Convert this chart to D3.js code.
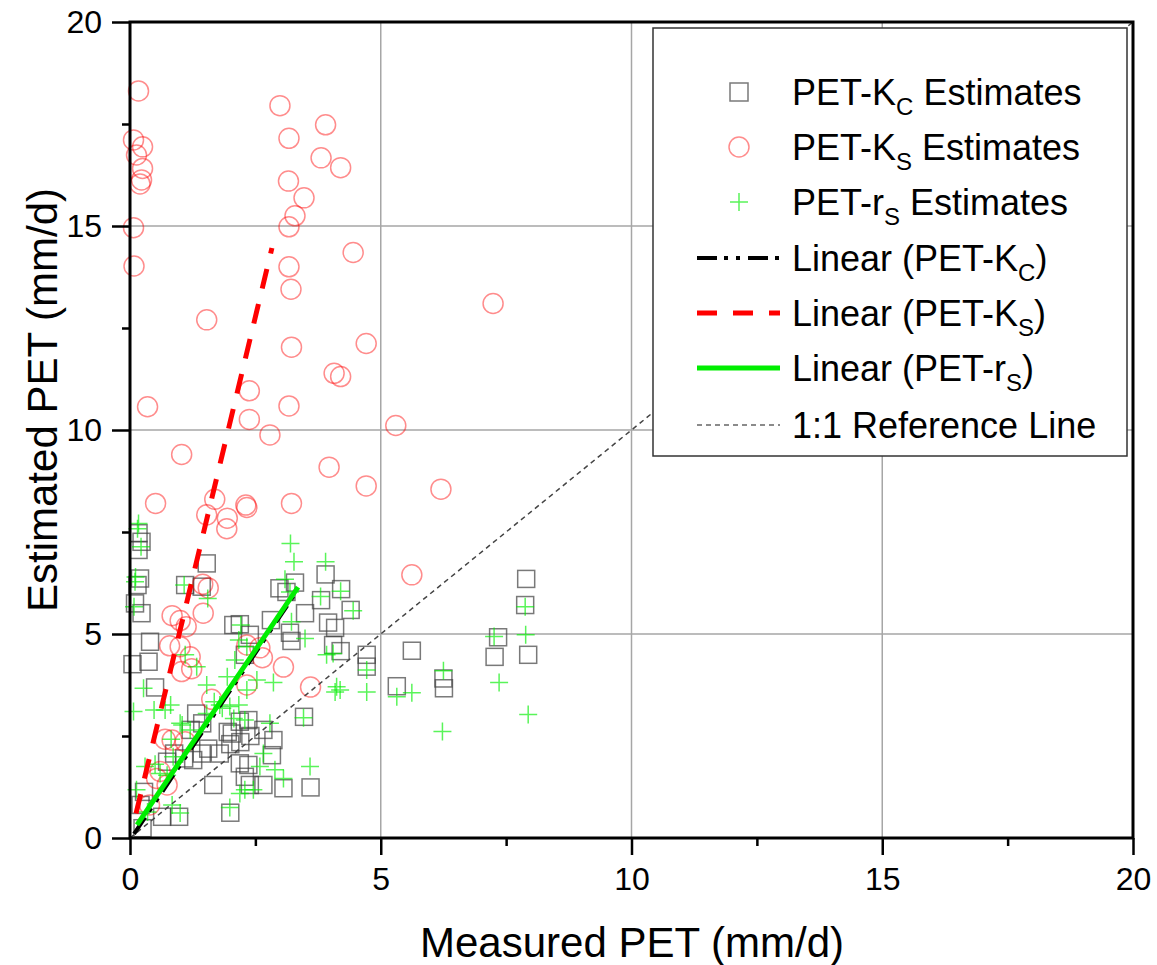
<!DOCTYPE html>
<html>
<head>
<meta charset="utf-8">
<script src="https://cdn.jsdelivr.net/npm/d3@7"></script>
<style>
body { margin: 0; background: #fff; }
text { font-family: "Liberation Sans", Arial, sans-serif; }
</style>
</head>
<body>
<div id="chart"></div>
<script>
// measured vs estimated PET
var kcPoints = [
  [0.17,7.47],[0.23,7.26],[0.17,7.06],[1.53,6.73],[1.10,6.20],[1.43,6.16],[0.20,6.36],[0.15,6.20],
  [0.10,5.75],[0.23,5.51],[0.40,4.81],[0.37,4.32],[0.05,4.26],[0.50,3.69],[2.06,5.22],[2.19,5.24],
  [2.39,4.98],[2.81,5.34],[2.98,6.12],[3.12,6.03],[3.29,6.26],[3.90,6.46],[3.81,5.83],[4.21,6.10],
  [3.49,5.51],[3.19,5.03],[3.22,4.83],[3.95,5.28],[4.09,5.15],[4.40,5.59],[4.05,4.73],[4.20,4.58],
  [4.72,4.49],[4.72,4.20],[7.90,6.35],[7.88,5.71],[7.34,4.92],[7.27,4.44],[7.94,4.49],[5.62,4.59],
  [5.32,3.72],[6.25,3.91],[6.26,3.67],[3.47,2.97],[1.32,3.05],[1.44,2.81],[1.21,2.65],[2.19,2.85],
  [2.36,2.89],[2.03,2.56],[2.66,2.65],[2.86,2.40],[2.83,2.03],[1.56,2.19],[1.79,2.07],[1.43,2.07],
  [1.26,1.91],[0.88,2.07],[1.08,1.95],[0.74,1.87],[2.19,1.83],[2.36,1.79],[2.29,1.50],[2.39,1.30],
  [2.66,1.30],[3.06,1.22],[3.60,1.24],[1.66,1.30],[2.00,0.62],[0.98,0.52],[0.64,0.52],[0.28,1.13],
  [0.21,0.81],[0.25,0.24],[2.20,2.35],[2.00,2.30],[2.40,2.50],[1.95,2.60],[2.29,4.49]
];
var ksPoints = [
  [0.17,18.31],[2.99,17.95],[3.90,17.48],[0.07,17.11],[0.25,16.94],[3.17,17.15],[0.13,16.74],[3.81,16.67],
  [4.20,16.43],[0.25,16.41],[0.23,16.13],[0.20,16.03],[3.16,16.10],[3.47,15.69],[3.29,15.25],[3.17,14.98],
  [0.07,14.96],[4.45,14.35],[0.08,14.02],[3.17,14.00],[3.21,13.45],[7.24,13.10],[1.53,12.70],[3.22,12.03],
  [4.71,12.12],[4.07,11.39],[4.20,11.31],[2.38,10.96],[0.35,10.57],[3.17,10.59],[2.38,10.26],[5.30,10.11],
  [2.79,9.88],[1.03,9.40],[3.97,9.09],[4.71,8.63],[6.20,8.55],[0.51,8.20],[1.69,8.30],[2.31,8.16],
  [2.33,8.10],[3.22,8.20],[1.53,7.92],[1.94,7.84],[1.93,7.58],
  [1.45,6.22],[1.56,6.13],[5.62,6.45],[1.46,5.51],[0.84,5.45],[1.00,5.33],[1.12,5.18],[0.79,4.71],
  [1.00,4.69],[1.20,4.44],[1.03,4.08],[1.23,4.15],[2.33,4.73],[2.59,4.66],[2.64,4.42],[3.06,4.19],
  [2.33,3.75],[3.60,3.70],[1.63,3.40],[0.70,2.42],[0.84,2.40],[1.10,2.36],[0.60,1.63],[0.53,1.46],
  [0.74,1.30],[0.39,0.81]
];
var rsPoints = [
  [0.17,7.71],[0.15,7.58],[0.22,7.14],[0.11,6.40],[0.10,6.28],[0.08,5.67],[1.08,6.20],[1.55,5.87],
  [3.20,7.22],[3.27,6.77],[3.90,6.77],[3.09,6.34],[3.19,6.03],[3.80,5.92],[4.20,6.05],[4.45,5.57],
  [3.22,5.30],[3.49,4.89],[3.92,4.49],[4.05,4.52],[4.12,3.71],[4.09,3.58],[4.19,3.63],[4.72,3.58],
  [4.72,4.12],[7.88,5.67],[7.89,4.98],[7.26,4.94],[7.36,3.81],[7.94,3.03],[6.25,4.10],[6.23,2.61],
  [5.62,3.56],[5.32,3.46],[3.59,1.75],[3.06,1.46],[3.46,2.95],[2.86,3.81],[2.79,2.81],[2.59,1.75],
  [2.46,1.18],[2.21,5.22],[2.17,4.85],[2.33,4.69],[2.09,4.36],[2.53,3.87],[2.33,3.63],[1.53,3.75],
  [1.33,4.20],[1.10,4.49],[0.27,3.67],[0.70,3.14],[0.48,3.14],[0.07,3.10],[1.00,2.81],[0.82,2.42],
  [1.20,2.65],[1.53,3.05],[1.79,3.26],[2.29,2.89],[1.99,3.22],[2.66,2.07],[2.89,1.67],[1.99,0.75],
  [2.19,1.09],[2.29,1.18],[1.00,0.61],[0.30,1.75],[0.50,1.81],[0.60,1.58],[0.86,1.99],[0.13,1.18],
  [0.81,3.26],[1.04,2.77],[1.94,3.95],[1.68,3.34],[2.17,3.26],[1.84,3.18],[0.74,1.54],[2.07,2.93],
  [0.84,0.81],[0.35,0.64]
];
// fitted lines (end points)
var fitKc = [[0.08,0.10],[3.30,6.00]];
var fitKs = [[0.12,0.60],[2.83,14.46]];
var fitRs = [[0.14,0.32],[3.35,6.15]];
var oneToOne = [[0,0],[20,20]];

var xTicks = [0,5,10,15,20];
var yTicks = [0,5,10,15,20];
var minorTicks = [2.5,7.5,12.5,17.5];
var gridValues = [5,10,15];

var w = 1157, h = 965;
var x = d3.scaleLinear().domain([0,20]).range([130,1133]);
var y = d3.scaleLinear().domain([0,20]).range([838,22]);

var kcDash = "20,7,4,8,4,8";
var ksDash = "20,16";

var svg = d3.select("#chart").append("svg")
  .attr("width", w).attr("height", h);

// grid
svg.selectAll("line.gx").data(gridValues).enter().append("line")
  .attr("x1", function(d){ return x(d); }).attr("x2", function(d){ return x(d); })
  .attr("y1", y(0)).attr("y2", y(20))
  .attr("stroke", "#a6a6a6").attr("stroke-width", 1.5);
svg.selectAll("line.gy").data(gridValues).enter().append("line")
  .attr("y1", function(d){ return y(d); }).attr("y2", function(d){ return y(d); })
  .attr("x1", x(0)).attr("x2", x(20))
  .attr("stroke", "#a6a6a6").attr("stroke-width", 1.5);

// markers
svg.selectAll("rect.kc").data(kcPoints).enter().append("rect")
  .attr("x", function(d){ return x(d[0]) - 8.5; })
  .attr("y", function(d){ return y(d[1]) - 8.5; })
  .attr("width", 17).attr("height", 17)
  .attr("fill", "none").attr("stroke", "#404040").attr("stroke-opacity", 0.7).attr("stroke-width", 1.5);

svg.selectAll("circle.ks").data(ksPoints).enter().append("circle")
  .attr("cx", function(d){ return x(d[0]); })
  .attr("cy", function(d){ return y(d[1]); })
  .attr("r", 10)
  .attr("fill", "none").attr("stroke", "#ff0000").attr("stroke-opacity", 0.45).attr("stroke-width", 1.5);

svg.selectAll("path.rs").data(rsPoints).enter().append("path")
  .attr("d", function(d){
    var cx = x(d[0]), cy = y(d[1]);
    return "M" + (cx - 9) + "," + cy + "H" + (cx + 9) + "M" + cx + "," + (cy - 9) + "V" + (cy + 9);
  })
  .attr("fill", "none").attr("stroke", "#00ee00").attr("stroke-opacity", 0.65).attr("stroke-width", 1.5);

// lines
var line = d3.line().x(function(d){ return x(d[0]); }).y(function(d){ return y(d[1]); });
svg.append("path").datum(oneToOne).attr("d", line)
  .attr("stroke", "#444").attr("stroke-width", 1.5).attr("stroke-dasharray", "5,4").attr("fill", "none");
svg.append("path").datum(fitKc).attr("d", line)
  .attr("stroke", "#000").attr("stroke-width", 4).attr("stroke-dasharray", kcDash).attr("fill", "none");
svg.append("path").datum(fitRs).attr("d", line)
  .attr("stroke", "#00ee00").attr("stroke-width", 5).attr("fill", "none");
svg.append("path").datum(fitKs).attr("d", line)
  .attr("stroke", "#ff0000").attr("stroke-width", 5).attr("stroke-dasharray", ksDash).attr("fill", "none");

// axes
function styleAxis(g) {
  g.select(".domain").remove();
  g.selectAll(".tick line").attr("stroke", "#000").attr("stroke-width", 2.5);
  g.selectAll(".tick text").attr("font-size", 32).attr("fill", "#000")
    .style("font-family", "'Liberation Sans', Arial, sans-serif");
}
svg.append("g").attr("transform", "translate(0," + y(0) + ")")
  .call(d3.axisBottom(x).tickValues(xTicks).tickSize(17).tickPadding(12).tickFormat(d3.format("d")))
  .call(styleAxis);
svg.append("g").attr("transform", "translate(0," + y(0) + ")")
  .call(d3.axisBottom(x).tickValues(minorTicks).tickSize(8).tickFormat(""))
  .call(styleAxis);
svg.append("g").attr("transform", "translate(" + x(0) + ",0)")
  .call(d3.axisLeft(y).tickValues(yTicks).tickSize(18).tickPadding(10).tickFormat(d3.format("d")))
  .call(styleAxis);
svg.append("g").attr("transform", "translate(" + x(0) + ",0)")
  .call(d3.axisLeft(y).tickValues(minorTicks).tickSize(8).tickFormat(""))
  .call(styleAxis);

// frame
svg.append("rect")
  .attr("x", x(0)).attr("y", y(20))
  .attr("width", x(20) - x(0)).attr("height", y(0) - y(20))
  .attr("fill", "none").attr("stroke", "#000").attr("stroke-width", 3);

// axis titles
svg.append("text").attr("x", 632).attr("y", 957)
  .attr("text-anchor", "middle").attr("font-size", 42).text("Measured PET (mm/d)");
svg.append("text").attr("transform", "translate(57,400) rotate(-90)")
  .attr("text-anchor", "middle").attr("font-size", 42).text("Estimated PET (mm/d)");

// legend
var legendItems = [
  { main: "PET-K", sub: "C", tail: " Estimates", kind: "square" },
  { main: "PET-K", sub: "S", tail: " Estimates", kind: "circle" },
  { main: "PET-r", sub: "S", tail: " Estimates", kind: "plus" },
  { main: "Linear (PET-K", sub: "C", tail: ")", kind: "kc" },
  { main: "Linear (PET-K", sub: "S", tail: ")", kind: "ks" },
  { main: "Linear (PET-r", sub: "S", tail: ")", kind: "rs" },
  { main: "1:1 Reference Line", sub: "", tail: "", kind: "ref" }
];
var legendRows = [92,147,202,258,313,368,425];

svg.append("rect").attr("x", 653).attr("y", 28).attr("width", 474).attr("height", 428)
  .attr("fill", "#fff").attr("stroke", "#333").attr("stroke-width", 1.5);

var leg = svg.selectAll("g.leg").data(legendItems).enter().append("g")
  .attr("transform", function(d, i){ return "translate(0," + legendRows[i] + ")"; });

leg.each(function(d) {
  var g = d3.select(this);
  if (d.kind == "square") {
    g.append("rect").attr("x", 730).attr("y", -9).attr("width", 18).attr("height", 18)
      .attr("fill", "none").attr("stroke", "#404040").attr("stroke-opacity", 0.7).attr("stroke-width", 1.5);
  } else if (d.kind == "circle") {
    g.append("circle").attr("cx", 739).attr("cy", 0).attr("r", 10)
      .attr("fill", "none").attr("stroke", "#ff0000").attr("stroke-opacity", 0.45).attr("stroke-width", 1.5);
  } else if (d.kind == "plus") {
    g.append("path").attr("d", "M730,0H748M739,-9V9")
      .attr("stroke", "#00ee00").attr("stroke-opacity", 0.65).attr("stroke-width", 1.5);
  } else {
    var ln = g.append("line").attr("x1", 697).attr("x2", 780).attr("y1", 0).attr("y2", 0);
    if (d.kind == "kc") ln.attr("stroke", "#000").attr("stroke-width", 4).attr("stroke-dasharray", kcDash);
    if (d.kind == "ks") ln.attr("stroke", "#ff0000").attr("stroke-width", 5).attr("stroke-dasharray", ksDash);
    if (d.kind == "rs") ln.attr("stroke", "#00ee00").attr("stroke-width", 5);
    if (d.kind == "ref") ln.attr("stroke", "#666").attr("stroke-width", 1.5).attr("stroke-dasharray", "5,4");
  }
  var t = g.append("text").attr("x", 792).attr("y", 13).attr("font-size", 36).attr("fill", "#000");
  t.append("tspan").text(d.main);
  if (d.sub) {
    t.append("tspan").attr("font-size", 24).attr("dy", 10).text(d.sub);
    t.append("tspan").attr("dy", -10).text(d.tail);
  }
});
</script>
</body>
</html>
